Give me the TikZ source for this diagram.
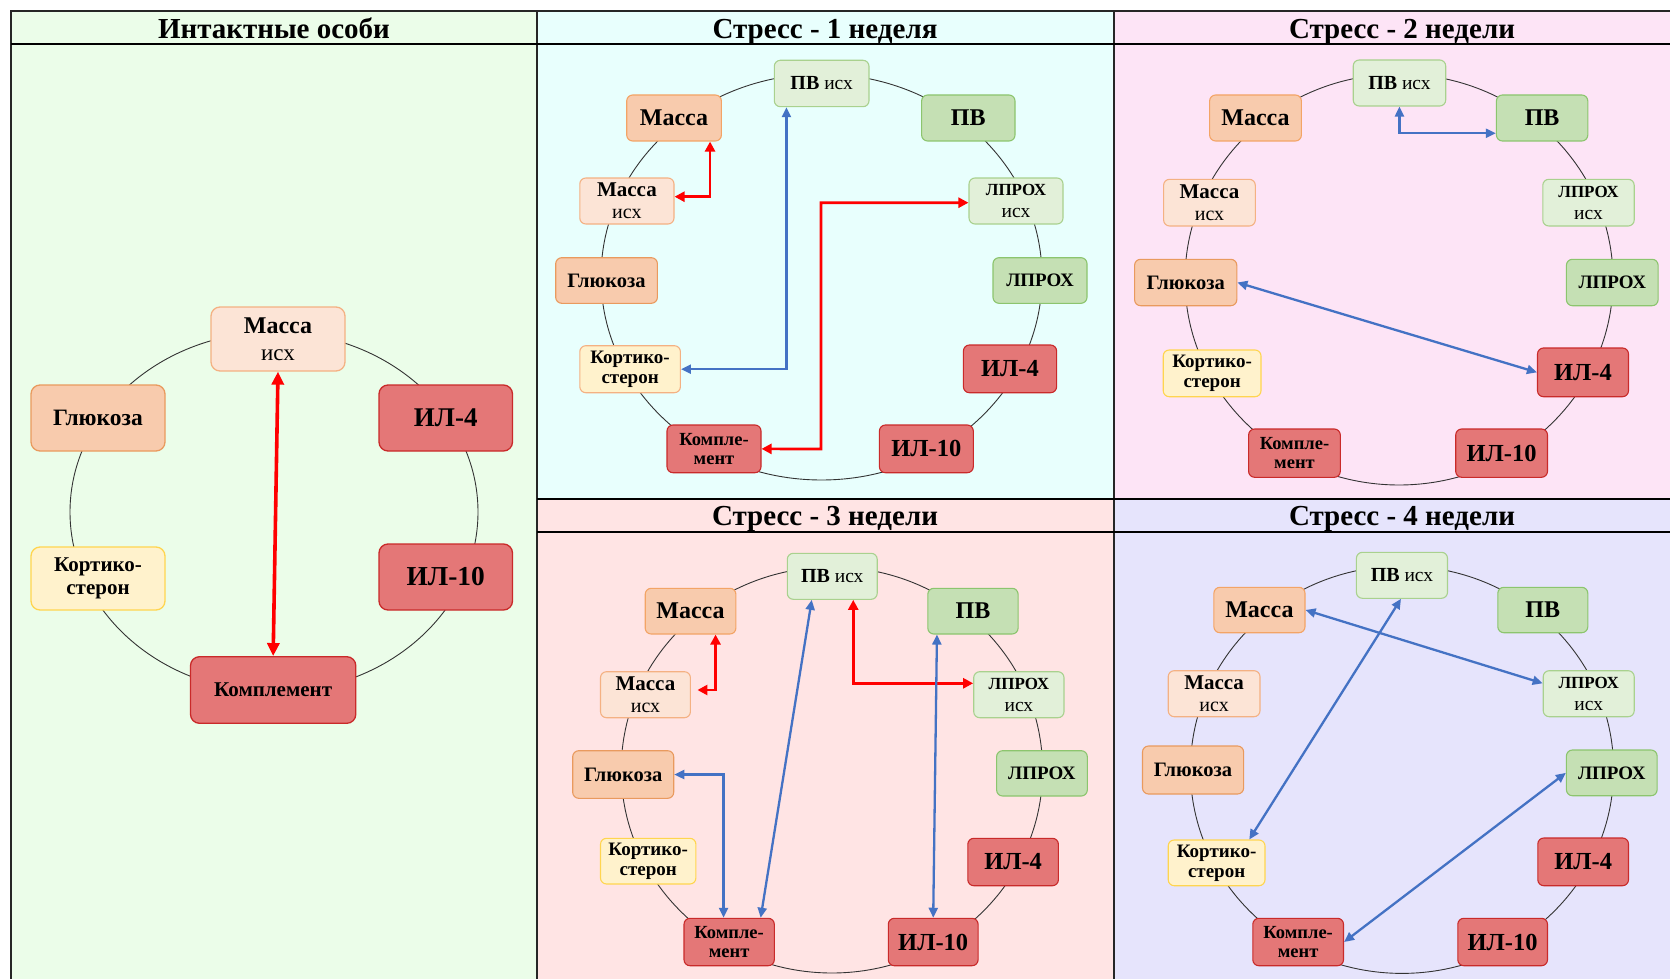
\documentclass[tikz,border=0pt]{standalone}
\usepackage{fontspec}
\setmainfont{Liberation Serif}
\usetikzlibrary{arrows.meta}
\definecolor{bgA}{HTML}{EBFDE9}
\definecolor{bgB}{HTML}{E8FFFD}
\definecolor{bgC}{HTML}{FDE4F6}
\definecolor{bgD}{HTML}{FFE4E4}
\definecolor{bgE}{HTML}{E6E4FC}
\definecolor{mF}{HTML}{F8CBAD}
\definecolor{mD}{HTML}{F3A466}
\definecolor{gD}{HTML}{E99A5E}
\definecolor{miF}{HTML}{FCE4D6}
\definecolor{miD}{HTML}{F4B183}
\definecolor{kF}{HTML}{FFF2CC}
\definecolor{kD}{HTML}{FFD54F}
\definecolor{rF}{HTML}{E47777}
\definecolor{rD}{HTML}{C92A2A}
\definecolor{piF}{HTML}{E2F0D9}
\definecolor{piD}{HTML}{A9D18E}
\definecolor{pF}{HTML}{C5E0B4}
\definecolor{pD}{HTML}{8CC56E}
\definecolor{ringC}{HTML}{333333}
\definecolor{arrR}{HTML}{FF0000}
\definecolor{arrB}{HTML}{4472C4}
\newcommand{\fz}[2]{\fontsize{#1}{#2}\selectfont}
\newcommand{\ndbox}[7]{\node[#6, minimum width={#4-#2}, minimum height={#5-#3}] (#1) at ({(#2+#4)/2},{(#3+#5)/2}) {#7};}
\tikzset{
  box/.style={draw, line width=1.1pt, rounded corners=6pt, inner sep=0pt, align=center, text=black},
  bigbox/.style={box, rounded corners=9pt, line width=1.3pt},
  cM/.style={fill=mF, draw=mD},
  cMI/.style={fill=miF, draw=miD},
  cG/.style={fill=mF, draw=gD},
  cK/.style={fill=kF, draw=kD},
  cKo/.style={fill=kF, draw=miD},
  cR/.style={fill=rF, draw=rD},
  cPI/.style={fill=piF, draw=piD},
  cP/.style={fill=pF, draw=pD},
  ring/.style={draw=ringC, line width=0.9pt},
  redA/.style={draw=arrR, line width=2.7pt, {Triangle[length=10pt,width=10pt]}-{Triangle[length=10pt,width=10pt]}},
  redB/.style={draw=arrR, line width=3.6pt, {Triangle[length=13pt,width=12pt]}-{Triangle[length=13pt,width=12pt]}},
  blueA/.style={draw=arrB, line width=2.3pt, {Triangle[length=10pt,width=9pt]}-{Triangle[length=10pt,width=9pt]}},
  ptitle/.style={font=\fz{29}{32}\bfseries, anchor=base, inner sep=0pt},
  frame/.style={line width=2pt, draw=black!85},
  tline/.style={line width=1.4pt, draw=black},
  fPVI/.style={font=\fz{19.5}{22}},
  fM/.style={font=\fz{24}{26}\bfseries},
  fMI/.style={font=\fz{20}{22.3}},
  fLI/.style={font=\fz{19.5}{22.3}},
  fG/.style={font=\fz{20.5}{22}\bfseries},
  fL/.style={font=\fz{19}{21}\bfseries},
  fK/.style={font=\fz{19}{20}\bfseries},
  fIL/.style={font=\fz{24.5}{26}\bfseries},
  fKM/.style={font=\fz{18.5}{19.3}\bfseries},
}
\begin{document}
\begin{tikzpicture}[x=1pt,y=-1pt]
\useasboundingbox (0,0) rectangle (1670,979);
\path[clip] (0,0) rectangle (1670,979);
\fill[white] (0,0) rectangle (1670,979);
% backgrounds
\fill[bgA] (11,11) rectangle (537,1000);
\fill[bgB] (537,11) rectangle (1114,499);
\fill[bgC] (1114,11) rectangle (1700,499);
\fill[bgD] (537,499) rectangle (1114,1000);
\fill[bgE] (1114,499) rectangle (1700,1000);
% frame
\draw[frame] (11,1000) -- (11,11) -- (1700,11);
\draw[frame] (537,11) -- (537,1000);
\draw[frame] (1114,11) -- (1114,1000);
\draw[tline] (11,44) -- (1700,44);
\draw[tline] (537,499) -- (1700,499);
\draw[tline] (537,532) -- (1700,532);
% titles
\node[ptitle] (t1) at (274,38.3) {Интактные особи};
\node[ptitle] (t2) at (825,38.3) {Стресс - 1 неделя};
\node[ptitle] (t3) at (1402,38.3) {Стресс - 2 недели};
\node[ptitle] (t4) at (825,525.3) {Стресс - 3 недели};
\node[ptitle] (t5) at (1402,525.3) {Стресс - 4 недели};
% rings
\draw[ring] (274,512) ellipse [x radius=204pt, y radius=180pt];
\draw[ring] (821.5,277) ellipse [x radius=220.5pt, y radius=203pt];
\draw[ring] (1399,279.5) ellipse [x radius=214pt, y radius=205.5pt];
\draw[ring] (831.9,770) ellipse [x radius=210.7pt, y radius=203pt];
\draw[ring] (1402,769.7) ellipse [x radius=211.6pt, y radius=203.7pt];
% ---------- panel 1
\ndbox{ami}{211}{307}{345}{371}{bigbox,cMI,font=\fz{23}{26.7}}{{\bfseries\fz{24}{26.7}Масса}\\исх}
\ndbox{agl}{31}{385}{165}{451}{bigbox,cG,font=\fz{23.5}{26}\bfseries}{Глюкоза}
\ndbox{ail4}{379}{385}{512.5}{451}{bigbox,cR,font=\fz{27}{29}\bfseries}{ИЛ-4}
\ndbox{ako}{31}{547}{165}{610}{bigbox,cK,font=\fz{21}{23.3}\bfseries}{Кортико-\\стерон}
\ndbox{ail10}{379}{544}{512.5}{610}{bigbox,cR,font=\fz{27.4}{29}\bfseries}{ИЛ-10}
\ndbox{akm}{190.5}{656.7}{355.8}{723.3}{bigbox,cR,font=\fz{21}{23}\bfseries}{Комплемент}
\draw[redB] (ami.south) -- (akm.north);
% ---------- panel 2
\ndbox{bpvi}{774.3}{60.3}{869}{106.7}{box,cPI,fPVI}{{\bfseries\fz{20}{22}ПВ} исх}
\ndbox{bm}{626.7}{95}{721.4}{141}{box,cM,fM}{Масса}
\ndbox{bpv}{921.6}{95}{1015}{141}{box,cP,fM}{ПВ}
\ndbox{bmi}{579.8}{178}{674}{224}{box,cMI,fMI}{{\bfseries\fz{21}{22.3}Масса}\\исх}
\ndbox{bli}{969}{178}{1063}{224}{box,cPI,fLI}{{\bfseries\fz{17}{22.3}ЛПРОХ}\\исх}
\ndbox{bgl}{555.7}{257.7}{657.4}{303.3}{box,cG,fG}{Глюкоза}
\ndbox{bl}{993}{257.7}{1087}{303.3}{box,cP,fL}{ЛПРОХ}
\ndbox{bko}{579.8}{345.7}{680.4}{392.7}{box,cKo,fK}{Кортико-\\стерон}
\ndbox{bil4}{963.4}{345}{1056.6}{392.7}{box,cR,fIL}{ИЛ-4}
\ndbox{bkm}{667}{425}{761}{472.7}{box,cR,fKM}{Компле-\\мент}
\ndbox{bil10}{879.4}{425}{973.3}{472.7}{box,cR,fIL}{ИЛ-10}
\coordinate (bc1) at (821,449);
\draw[redA] ([yshift=4.3pt]bmi.east) -| ([xshift=36pt]bm.south);
\draw[blueA] ([xshift=-35.2pt]bpvi.south) |- (bko.east);
\draw[redA] ([yshift=-1.7pt]bli.west) -| (bc1) -- (bkm.east);
% ---------- panel 3
\ndbox{cpvi}{1353.2}{60}{1445.7}{106}{box,cPI,fPVI}{{\bfseries\fz{20}{22}ПВ} исх}
\ndbox{cm}{1209.6}{95}{1301.4}{141}{box,cM,fM}{Масса}
\ndbox{cpv}{1496.4}{95}{1587.8}{141}{box,cP,fM}{ПВ}
\ndbox{cmi}{1163.6}{179.3}{1255.3}{226}{box,cMI,fMI}{{\bfseries\fz{21}{22.3}Масса}\\исх}
\ndbox{cli}{1542.8}{179.3}{1634.2}{226}{box,cPI,fLI}{{\bfseries\fz{17}{22.3}ЛПРОХ}\\исх}
\ndbox{cgl}{1134.6}{259.3}{1236.8}{305.7}{box,cG,fG}{Глюкоза}
\ndbox{cl}{1566.4}{259.3}{1658.1}{305.7}{box,cP,fL}{ЛПРОХ}
\ndbox{cko}{1163.2}{350}{1261}{396.7}{box,cK,fK}{Кортико-\\стерон}
\ndbox{cil4}{1537.5}{348}{1628.5}{396.7}{box,cR,fIL}{ИЛ-4}
\ndbox{ckm}{1248.6}{429}{1340.3}{477.3}{box,cR,fKM}{Компле-\\мент}
\ndbox{cil10}{1455.7}{429}{1547.5}{477.3}{box,cR,fIL}{ИЛ-10}
\draw[blueA] (cpvi.south) |- ([yshift=-15.3pt]cpv.west);
\draw[blueA] (cgl.east) -- (cil4.west);
% ---------- panel 4
\ndbox{dpvi}{787.3}{553.3}{877.2}{599.3}{box,cPI,fPVI}{{\bfseries\fz{20}{22}ПВ} исх}
\ndbox{dm}{645.2}{588.3}{735.9}{634}{box,cM,fM}{Масса}
\ndbox{dpv}{927.8}{588.3}{1018.1}{634}{box,cP,fM}{ПВ}
\ndbox{dmi}{600.5}{671.7}{690.4}{717.7}{box,cMI,fMI}{{\bfseries\fz{21}{22.3}Масса}\\исх}
\ndbox{dli}{973.7}{671.7}{1064}{717.7}{box,cPI,fLI}{{\bfseries\fz{17}{22.3}ЛПРОХ}\\исх}
\ndbox{dgl}{572.7}{750.7}{673.7}{798.3}{box,cG,fG}{Глюкоза}
\ndbox{dl}{996.6}{750.7}{1087.3}{796}{box,cP,fL}{ЛПРОХ}
\ndbox{dko}{600.5}{838.3}{695.9}{884}{box,cK,fK}{Кортико-\\стерон}
\ndbox{dil4}{967.8}{838.3}{1058.4}{885.7}{box,cR,fIL}{ИЛ-4}
\ndbox{dkm}{684}{918.3}{774.3}{965.7}{box,cR,fKM}{Компле-\\мент}
\ndbox{dil10}{888.3}{918.3}{978.1}{965.7}{box,cR,fIL}{ИЛ-10}
\draw[redA] ([xshift=6.5pt,yshift=4.7pt]dmi.east) -| ([xshift=25pt]dm.south);
\draw[redA] ([xshift=21pt]dpvi.south) |- ([yshift=11.4pt]dli.west);
\draw[blueA] (dgl.east) -| ([xshift=-5.6pt]dkm.north);
\draw[blueA] ([xshift=-20.5pt]dpvi.south) -- ([xshift=31.5pt]dkm.north);
\draw[blueA] ([xshift=-36pt]dpv.south) -- (dil10.north);
% ---------- panel 5
\ndbox{epvi}{1356.4}{552.3}{1447.5}{598.3}{box,cPI,fPVI}{{\bfseries\fz{20}{22}ПВ} исх}
\ndbox{em}{1213.9}{587.3}{1305}{632.7}{box,cM,fM}{Масса}
\ndbox{epv}{1497.8}{587.3}{1587.8}{632.7}{box,cP,fM}{ПВ}
\ndbox{emi}{1168.2}{670.7}{1260}{716.7}{box,cMI,fMI}{{\bfseries\fz{21}{22.3}Масса}\\исх}
\ndbox{eli}{1543.2}{670.7}{1634.2}{716.7}{box,cPI,fLI}{{\bfseries\fz{17}{22.3}ЛПРОХ}\\исх}
\ndbox{egl}{1142.5}{746}{1243.6}{794}{box,cG,fG}{Глюкоза}
\ndbox{el}{1566.4}{750}{1657.1}{795.7}{box,cP,fL}{ЛПРОХ}
\ndbox{eko}{1168.2}{840}{1265}{885.7}{box,cK,fK}{Кортико-\\стерон}
\ndbox{eil4}{1537.8}{838}{1628.5}{885.7}{box,cR,fIL}{ИЛ-4}
\ndbox{ekm}{1252.8}{918.3}{1343.5}{965.7}{box,cR,fKM}{Компле-\\мент}
\ndbox{eil10}{1457.8}{918.3}{1547.5}{965.7}{box,cR,fIL}{ИЛ-10}
\draw[blueA] (em.east) -- ([yshift=10.4pt]eli.west);
\draw[blueA] ([xshift=-1pt]epvi.south) -- ([xshift=32.7pt]eko.north);
\draw[blueA] (el.west) -- (ekm.east);
\end{tikzpicture}
\end{document}
